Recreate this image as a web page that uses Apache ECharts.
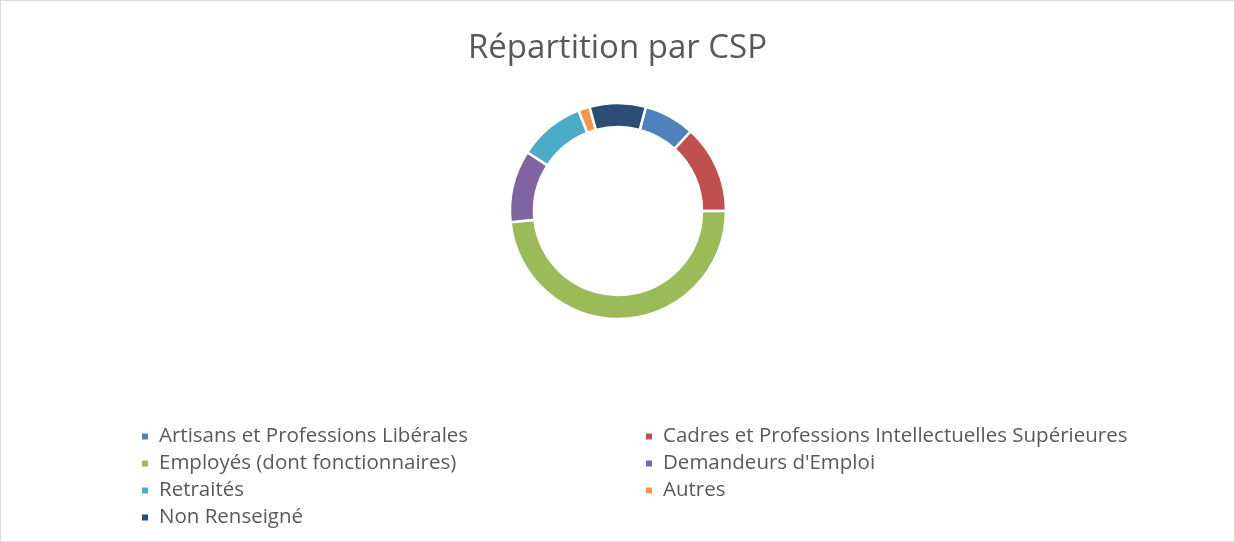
<!DOCTYPE html>
<html>
<head>
<meta charset="utf-8">
<script src="https://cdn.jsdelivr.net/npm/echarts@6/dist/echarts.min.js"></script>
<style>
  html, body { margin: 0; padding: 0; background: #fff; }
  #main { width: 1233px; height: 540px; border: 1px solid #d9d9d9; }
</style>
</head>
<body>
<div id="main"></div>
<script>
var categories = [
  "Artisans et Professions Libérales",
  "Cadres et Professions Intellectuelles Supérieures",
  "Employés (dont fonctionnaires)",
  "Demandeurs d'Emploi",
  "Retraités",
  "Autres",
  "Non Renseigné"
];
var shares = [7.6, 13.2, 48.3, 10.8, 9.9, 1.7, 8.4];
var colors = ["#4F81BD", "#C0504D", "#9BBB59", "#8064A2", "#4BACC6", "#F79646", "#2C4D75"];

var leftLegend = [categories[0], categories[2], categories[4], categories[6]];
var rightLegend = [categories[1], categories[3], categories[5]];

var myChart = echarts.init(document.getElementById("main"));
var legendStyle = {
  orient: "vertical",
  top: 425,
  padding: 0,
  icon: "rect",
  itemWidth: 8,
  itemHeight: 8,
  itemGap: 6,
  textStyle: {
    fontFamily: "Open Sans",
    fontSize: 20.5,
    lineHeight: 21,
    color: "#595959",
    padding: [0, 0, 0, 5]
  }
};
var option = {
  color: colors,
  title: {
    text: "Répartition par CSP",
    left: "center",
    top: 26,
    textStyle: { fontFamily: "Open Sans", fontSize: 33, fontWeight: "normal", color: "#595959" }
  },
  legend: [
    Object.assign({ left: 139, data: leftLegend }, legendStyle),
    Object.assign({ left: 643, data: rightLegend }, legendStyle)
  ],
  series: [
    {
      type: "pie",
      center: [617, 210],
      radius: [84, 108],
      startAngle: 75,
      clockwise: true,
      label: { show: false },
      labelLine: { show: false },
      emphasis: { disabled: true },
      itemStyle: { borderColor: "#fff", borderWidth: 2.5 },
      data: categories.map(function (c, i) {
        return { name: c, value: shares[i] };
      })
    }
  ]
};
myChart.setOption(option);
</script>
</body>
</html>
